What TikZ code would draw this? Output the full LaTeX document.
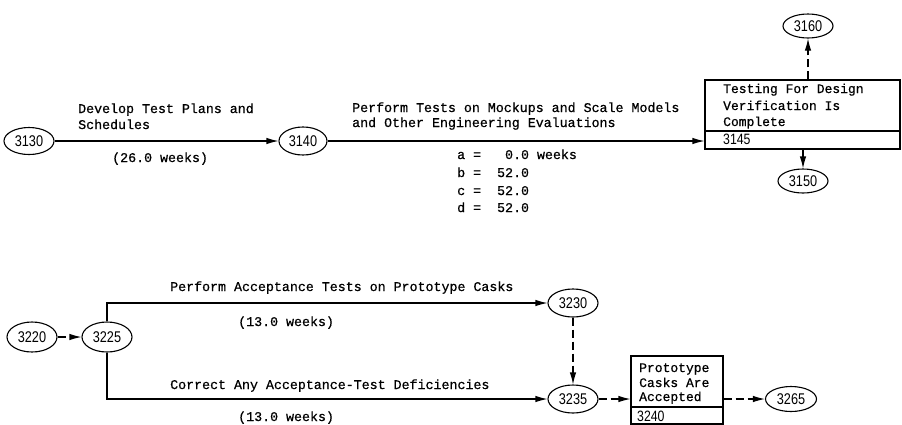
\documentclass[tikz,border=0pt]{standalone}
\usepackage{fontspec}
\setmainfont{Liberation Mono}[FakeBold=0.6]
\newfontfamily\numfont{Liberation Sans}
\usetikzlibrary{shapes.geometric,arrows.meta}
% condensed event numbers
\newcommand\evnum[1]{\scalebox{0.82}[1]{#1}}
\begin{document}
\begin{tikzpicture}[x=1pt,y=-1pt,
  evt/.style={ellipse,draw,line width=1.1pt,minimum width=50pt,minimum height=27pt,
    inner sep=0pt,font=\numfont\fontsize{15.5}{15.5}\selectfont},
  lbl/.style={anchor=base west,inner sep=0pt,font=\fontsize{13.3}{15}\selectfont},
  boxlbl/.style={lbl,font=\fontsize{13}{15}\selectfont},
  numlbl/.style={anchor=base west,inner sep=0pt,font=\numfont\fontsize{15}{15}\selectfont},
  wire/.style={line width=1.1pt},
  arr/.style={wire,-{Latex[length=12pt,width=6.5pt]}},
  dummy/.style={arr,dash pattern=on 8pt off 4pt},
  milestone/.style={draw,line width=1.1pt,inner sep=0pt}]
\useasboundingbox (0,0) rectangle (902,424);

% ---------- upper network ----------
\node[evt] (n3130) at (29,141) {\evnum{3130}};
\node[evt,minimum width=48pt,minimum height=28pt] (n3140) at (303,141) {\evnum{3140}};
\node[milestone,minimum width=195pt,minimum height=69pt] (box1) at (802.5,114.5) {};
\draw[wire] (705,131) -- (900,131);
\node[evt,minimum height=24pt] (n3160) at (808,26) {\evnum{3160}};
\node[evt,minimum height=24pt] (n3150) at (803,181) {\evnum{3150}};

\node[lbl] (t1a) at (78,113) {Develop Test Plans and};
\node[lbl] (t1b) at (78,129) {Schedules};
\node[lbl] (t1c) at (112,162) {(26.0 weeks)};

\node[lbl] (t2a) at (352,112) {Perform Tests on Mockups and Scale Models};
\node[lbl] (t2b) at (352,127) {and Other Engineering Evaluations};
\node[lbl] (ta) at (457,159) {a =\ \ \ 0.0 weeks};
\node[lbl] (tb) at (457,177) {b =\ \ 52.0};
\node[lbl] (tc) at (457,195) {c =\ \ 52.0};
\node[lbl] (td) at (457,212) {d =\ \ 52.0};

\node[boxlbl] (b1a) at (723,93) {Testing For Design};
\node[boxlbl] (b1b) at (723,110) {Verification Is};
\node[boxlbl] (b1c) at (723,126) {Complete};
\node[numlbl] (b1n) at (723,144) {\evnum{3145}};

\draw[arr] (n3130) -- (n3140);
\draw[arr] (n3140) -- (n3140 -| box1.west);
\draw[dummy] (n3160 |- box1.north) -- (n3160.south);
\draw[dummy] (n3150 |- box1.south) -- (n3150.north);

% ---------- lower network ----------
\node[evt,minimum height=30pt] (n3220) at (32,337) {\evnum{3220}};
\node[evt,minimum height=30pt] (n3225) at (107,337) {\evnum{3225}};
\node[evt,minimum height=28pt] (n3230) at (573,303) {\evnum{3230}};
\node[evt,minimum height=28pt] (n3235) at (573,399) {\evnum{3235}};
\node[milestone,minimum width=92pt,minimum height=68pt] (box2) at (677,390) {};
\draw[wire] (631,407) -- (723,407);
\node[evt,minimum width=51pt,minimum height=25pt] (n3265) at (791,399) {\evnum{3265}};

\node[lbl] (t3a) at (170,291) {Perform Acceptance Tests on Prototype Casks};
\node[lbl] (t3b) at (238,326) {(13.0 weeks)};
\node[lbl] (t4a) at (170,389) {Correct Any Acceptance-Test Deficiencies};
\node[lbl] (t4b) at (238,421) {(13.0 weeks)};

\node[boxlbl] (b2a) at (639,372) {Prototype};
\node[boxlbl] (b2b) at (639,387) {Casks Are};
\node[boxlbl] (b2c) at (639,401) {Accepted};
\node[numlbl] (b2n) at (637,421) {\evnum{3240}};

\draw[dummy] (n3220) -- (n3225);
\draw[arr] (n3225.north) |- (n3230.west);
\draw[arr] (n3225.south) |- (n3235.west);
\draw[dummy] (n3230) -- (n3235);
\draw[dummy] (n3235) -- (n3235 -| box2.west);
\draw[dummy] (n3235 -| box2.east) -- (n3265);
\end{tikzpicture}
\end{document}
